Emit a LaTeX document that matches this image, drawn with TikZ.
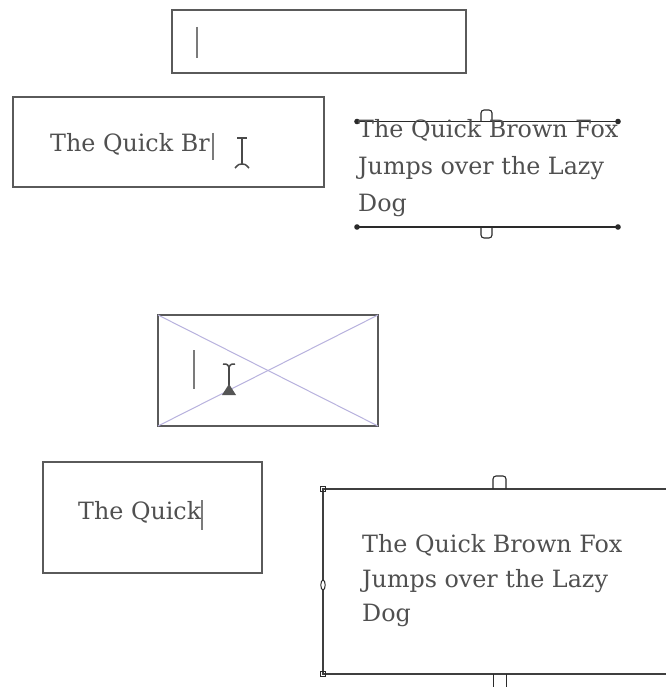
\documentclass[tikz,border=0pt]{standalone}
\usepackage{fontspec}
\setmainfont{DejaVu Serif}
\definecolor{frame}{HTML}{5A5A5A}
\definecolor{txt}{HTML}{505050}
\definecolor{diag}{HTML}{B8B2DE}
\definecolor{sel}{HTML}{2A2A2A}
\begin{document}
\begin{tikzpicture}[x=1pt,y=-1pt,
  box/.style={draw=frame, line width=1.8pt, inner sep=0pt, outer sep=0pt, anchor=north west},
  txtline/.style={text=txt, inner sep=0pt, anchor=base west, font=\fontsize{23.8}{34}\selectfont},
  caret/.style={draw=frame!80, line width=1.8pt},
  beam/.style={draw=sel!85, line width=1.5pt},
  selline/.style={draw=sel, line width=1.5pt},
  handle/.style={draw=sel, line width=1.1pt, rounded corners=3pt},
  bigline/.style={draw=sel!90, line width=2.4pt}]
\useasboundingbox[fill=white] (0,0) rectangle (665,687);

% box 1 (empty, caret)
\node[box, minimum width=294pt, minimum height=63pt] (b1) at (172,10) {};
\draw[caret] (197,27) -- (197,58);

% box 2
\node[box, minimum width=311pt, minimum height=90pt] (b2) at (13,97) {};
\node[txtline] (t2) at (50,152) {The Quick Br};
\draw[caret] (213,133) -- (213,160);
\draw[beam] (242,138) -- (242,164);
\draw[beam] (237,138) -- (247,138);
\draw[beam] (235,168) .. controls (239,164) .. (242,164) .. controls (245,164) .. (249,168);

% top-right selected text
\coordinate (s1) at (357,121.5);
\coordinate (s2) at (618,121.5);
\coordinate (s3) at (357,227);
\coordinate (s4) at (618,227);
\draw[selline] (s1) -- (s2);
\draw[selline] (s3) -- (s4);
\fill[sel] (s1) circle (2.8);
\fill[sel] (s2) circle (2.8);
\fill[sel] (s3) circle (2.8);
\fill[sel] (s4) circle (2.8);
\draw[handle] (481,121.5) -- (481,110) -- (492,110) -- (492,121.5);
\draw[handle] (481,227) -- (481,238) -- (492,238) -- (492,227);
\node[txtline] (t3a) at (358,138) {The Quick Brown Fox};
\node[txtline] (t3b) at (358,175) {Jumps over the Lazy};
\node[txtline] (t3c) at (358,211) {Dog};

% box 4 (crossed)
\node[box, minimum width=220pt, minimum height=111pt] (b4) at (158,315) {};
\draw[diag, line width=1pt] (b4.north west) -- (b4.south east);
\draw[diag, line width=1pt] (b4.south west) -- (b4.north east);
\draw[caret] (194,350) -- (194,389);
\draw[beam] (229,366) -- (229,390);
\draw[beam] (223,364) .. controls (227,364) .. (229,367) .. controls (231,364) .. (235,364);
\fill[sel!80] (222,395) -- (229,384) -- (236,395) -- cycle;

% box 5
\node[box, minimum width=219pt, minimum height=111pt] (b5) at (43,462) {};
\node[txtline] (t5) at (78,519) {The Quick};
\draw[caret] (202,500) -- (202,530);

% box 6 (big, selected)
\coordinate (c1) at (323,489);
\coordinate (c2) at (668,489);
\coordinate (c3) at (323,674);
\coordinate (c4) at (668,674);
\draw[bigline] (c2) -- (c1) -- (c3) -- (c4);
\draw[sel, line width=1pt] (320.5,486.5) rectangle (325.5,491.5);
\draw[sel, line width=1pt] (320.5,671.5) rectangle (325.5,676.5);
\draw[sel, line width=1pt, fill=white] (323,585) ellipse (2.2 and 5);
\draw[handle] (493,489) -- (493,476) -- (506,476) -- (506,489);
\draw[sel, line width=1pt] (493,674) -- (493,690);
\draw[sel, line width=1pt] (506,674) -- (506,690);
\node[txtline] (t6a) at (362,552) {The Quick Brown Fox};
\node[txtline] (t6b) at (362,587) {Jumps over the Lazy};
\node[txtline] (t6c) at (362,621) {Dog};
\end{tikzpicture}
\end{document}
